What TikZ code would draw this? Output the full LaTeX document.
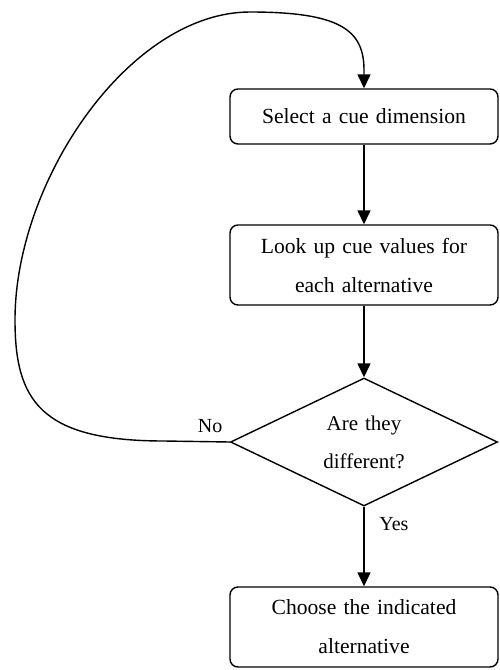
\documentclass[tikz,border=0pt]{standalone}
\usepackage{fontspec}
\setmainfont{Liberation Serif}
\usetikzlibrary{shapes.geometric,arrows.meta}
\tikzstyle{decision} = [diamond, draw, aspect=2, text width=5em, align=center, minimum width=133.5pt, minimum height=64pt, inner sep=0pt, font=\fontsize{10.5}{19}\selectfont]
\tikzstyle{block} = [rectangle, draw, rounded corners=4pt, minimum width=134pt, minimum height=27.5pt, text width=126pt, align=center, inner ysep=5pt, font=\fontsize{10.8}{19.5}\selectfont]
\tikzstyle{arrow} = [draw, -{Triangle[length=7pt,width=6.5pt]}]

\begin{document}
\begin{tikzpicture}[node distance=74.25pt, line width=0.7pt]
        \useasboundingbox (0,0) rectangle (249.5pt,-335pt);
        % Place nodes
        \node [block] (sel) at (182pt,-58.25pt) {Select a cue dimension};
        \node [block, below of=sel, minimum height=40pt] (look) {Look up cue values for\\each alternative};
        \node [decision, below of=look, yshift=-14.25pt] (dif) {Are they\\different?};
        \node [block, below of=dif, yshift=-18.25pt, minimum height=40pt] (cho) {Choose the indicated\\alternative};
        % Draw edges
        \path [arrow] (sel) -- (look);
        \path [arrow] (look) -- (dif);
        \path [arrow] (dif) -- node [pos=0.22, right, xshift=4pt] {Yes} (cho);
        \path [arrow] (dif.west) -- node [pos=0.3, above, yshift=1pt] {No} (82pt,-220.5pt)
            .. controls (20pt,-220.5pt) and (7.5pt,-200pt) .. (7.5pt,-160pt)
            .. controls (7.5pt,-90pt) and (65pt,-6pt) .. (125pt,-6pt)
            .. controls (170pt,-6pt) and (182pt,-15pt) .. (182pt,-35pt) -- (sel.north);
    \end{tikzpicture}
\end{document}
